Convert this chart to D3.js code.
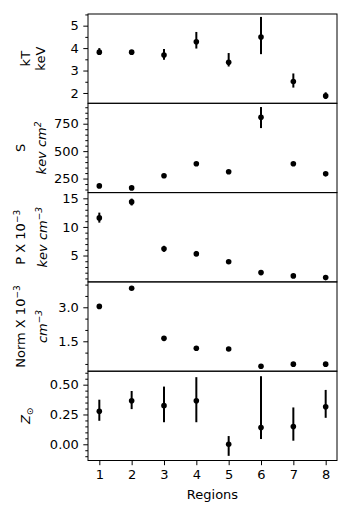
<!DOCTYPE html>
<html>
<head>
<meta charset="utf-8">
<script src="https://cdn.jsdelivr.net/npm/d3@7"></script>
<style>
  body { margin: 0; background: #fff; }
  svg { font-family: "DejaVu Sans", sans-serif; }
</style>
</head>
<body>
<div id="chart"></div>
<script>
// --- data ---
const regions = [1, 2, 3, 4, 5, 6, 7, 8];

const kT   = [3.82, 3.82, 3.69, 4.28, 3.37, 4.49, 2.51, 1.87];
const kTHi = [4.00, 3.87, 3.96, 4.72, 3.78, 5.39, 2.87, 2.03];
const kTLo = [3.70, 3.77, 3.48, 3.98, 3.18, 3.73, 2.24, 1.73];

const S   = [183, 165, 275, 385, 312, 808, 385, 293];
const SHi = [190, 172, 283, 395, 320, 902, 398, 300];
const SLo = [176, 158, 267, 375, 304, 710, 372, 286];

const P   = [11.58, 14.37, 6.18, 5.30, 3.90, 2.02, 1.44, 1.14];
const PHi = [12.50, 14.95, 6.70, 5.80, 4.10, 2.22, 1.54, 1.24];
const PLo = [10.75, 13.75, 5.65, 4.85, 3.70, 1.82, 1.34, 1.04];

const norm = [3.04, 3.84, 1.63, 1.19, 1.16, 0.40, 0.49, 0.49];

const Z   = [0.277, 0.365, 0.324, 0.365, 0.000, 0.141, 0.149, 0.315];
const ZHi = [0.374, 0.447, 0.484, 0.563, 0.069, 0.571, 0.309, 0.456];
const ZLo = [0.197, 0.295, 0.185, 0.185, -0.097, 0.044, 0.030, 0.222];

const xTicks = [1, 2, 3, 4, 5, 6, 7, 8];

// panel config: domain, major ticks, minor step, tick format, label lines
const panels = [
  { v: kT, hi: kTHi, lo: kTLo, domain: [1.54, 5.52], ticks: [2, 3, 4, 5], minor: 0.5, fmt: d3.format("d"),
    label: [{ x: 30, parts: [{ t: "kT" }] }, { x: 45, parts: [{ t: "keV" }] }] },
  { v: S, hi: SHi, lo: SLo, domain: [122, 936], ticks: [250, 500, 750], minor: 50, fmt: d3.format("d"),
    label: [{ x: 25, parts: [{ t: "S" }] },
            { x: 46, parts: [{ t: "kev cm", it: true }, { t: "2", sup: true, it: true }] }] },
  { v: P, hi: PHi, lo: PLo, domain: [0.39, 16], ticks: [5, 10, 15], minor: 1, fmt: d3.format("d"),
    label: [{ x: 25, parts: [{ t: "P X 10" }, { t: "\u22123", sup: true }] },
            { x: 47, parts: [{ t: "kev cm", it: true }, { t: "\u22123", sup: true, it: true }] }] },
  { v: norm, hi: null, lo: null, domain: [0.18, 4.12], ticks: [1.5, 3.0], minor: 0.5, fmt: d3.format(".1f"),
    label: [{ x: 25, parts: [{ t: "Norm X 10" }, { t: "\u22123", sup: true }] },
            { x: 47, parts: [{ t: "cm", it: true }, { t: "\u22123", sup: true, it: true }] }] },
  { v: Z, hi: ZHi, lo: ZLo, domain: [-0.136, 0.613], ticks: [0, 0.25, 0.5], minor: 0.05, fmt: d3.format(".2f"),
    label: [{ x: 30, parts: [{ t: "Z", it: true }, { t: "\u2299", sub: true }] }] }
];

const W = 350, H = 513;
const mLeft = 88, mRight = 337, mTop = 14, mBottom = 460.5;
const ph = (mBottom - mTop) / panels.length;

const svg = d3.select("#chart").append("svg")
  .attr("width", W).attr("height", H);

const x = d3.scaleLinear().domain([0.65, 8.35]).range([mLeft, mRight]);

panels.forEach((p, i) => {
  const y0 = mTop + i * ph, y1 = y0 + ph;
  const y = d3.scaleLinear().domain(p.domain).range([y1, y0]);
  const g = svg.append("g");

  // minor ticks
  const minors = d3.range(Math.ceil(p.domain[0] / p.minor) * p.minor, p.domain[1], p.minor)
    .filter(m => !p.ticks.some(t => Math.abs(t - m) < p.minor / 10));
  g.append("g")
    .attr("transform", `translate(${mLeft},0)`)
    .call(d3.axisLeft(y).tickValues(minors).tickSize(2.7).tickSizeOuter(0).tickFormat(""))
    .call(a => a.select(".domain").remove());

  // major ticks
  g.append("g")
    .attr("transform", `translate(${mLeft},0)`)
    .call(d3.axisLeft(y).tickValues(p.ticks).tickSize(4.7).tickPadding(4.5).tickSizeOuter(0).tickFormat(p.fmt))
    .call(a => a.select(".domain").remove())
    .call(a => a.selectAll("text").attr("font-size", 13).attr("fill", "#000")
      .attr("font-family", "DejaVu Sans"));

  // error bars
  if (p.hi) {
    g.selectAll(".err").data(regions).enter().append("line")
      .attr("x1", (d) => x(d)).attr("x2", (d) => x(d))
      .attr("y1", (d, j) => y(p.hi[j])).attr("y2", (d, j) => y(p.lo[j]))
      .attr("stroke", "#000").attr("stroke-width", 2);
  }
  // points
  g.selectAll(".pt").data(regions).enter().append("circle")
    .attr("cx", d => x(d)).attr("cy", (d, j) => y(p.v[j]))
    .attr("r", 2.8).attr("fill", "#000");

  // frame
  g.append("rect")
    .attr("x", mLeft).attr("y", y0).attr("width", mRight - mLeft).attr("height", ph)
    .attr("fill", "none").attr("stroke", "#000").attr("stroke-width", 1);

  // y label lines
  const cy = (y0 + y1) / 2;
  p.label.forEach(line => {
    const t = svg.append("text")
      .attr("transform", `translate(${line.x},${cy}) rotate(-90)`)
      .attr("text-anchor", "middle")
      .attr("font-size", 13).attr("fill", "#000");
    line.parts.forEach(part => {
      const ts = t.append("tspan").text(part.t);
      if (part.it) ts.attr("font-style", "italic");
      if (part.sup) ts.attr("font-size", 9).attr("dy", -5.5);
      if (part.sub) ts.attr("font-size", 9).attr("dy", 2.5);
    });
  });
});

// bottom x axis
svg.append("g")
  .attr("transform", `translate(0,${mBottom})`)
  .call(d3.axisBottom(x).tickValues(xTicks).tickSize(4.7).tickPadding(4.5).tickSizeOuter(0).tickFormat(d3.format("d")))
  .call(a => a.select(".domain").remove())
  .call(a => a.selectAll("text").attr("font-size", 13).attr("fill", "#000")
    .attr("font-family", "DejaVu Sans"));

svg.append("text")
  .attr("x", (mLeft + mRight) / 2).attr("y", 499)
  .attr("text-anchor", "middle").attr("font-size", 13).attr("fill", "#000")
  .text("Regions");
</script>
</body>
</html>
